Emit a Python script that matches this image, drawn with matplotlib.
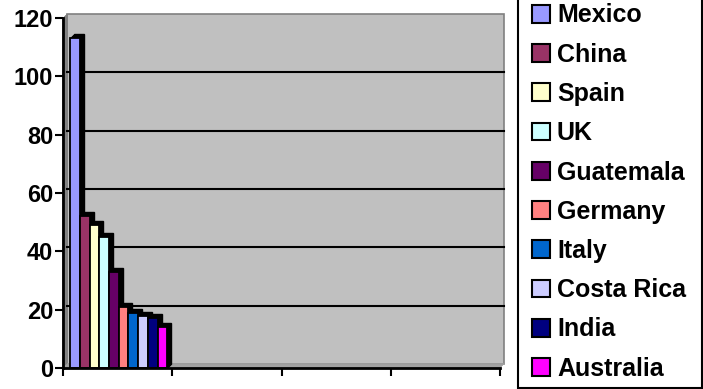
import matplotlib
matplotlib.use('Agg')
import matplotlib.pyplot as plt
from matplotlib.transforms import offset_copy
from matplotlib.patches import Rectangle

countries = ['Mexico', 'China', 'Spain', 'UK', 'Guatemala', 'Germany',
             'Italy', 'Costa Rica', 'India', 'Australia']
values = [113, 52, 49, 45, 33, 21, 19, 18, 17, 14]
colors = ['#9999FF', '#993366', '#FFFFCC', '#CCFFFF', '#660066', '#FF8080',
          '#0066CC', '#CCCCFF', '#000080', '#FF00FF']
n_categories = 4
yticks = [0, 20, 40, 60, 80, 100, 120]

plt.rcParams['font.family'] = ['Liberation Sans', 'DejaVu Sans']
plt.rcParams['font.weight'] = 'bold'

fig = plt.figure(figsize=(7.03, 3.89), dpi=100)
ax = fig.add_axes([63/703, 21/389, 437/703, 350/389])
ax.set_xlim(0, n_categories)
ax.set_ylim(0, yticks[-1])
ax.patch.set_visible(False)

D = 4
def off(k):
    return offset_copy(ax.transData, fig=fig, x=k, y=k, units='dots')

# back wall
ax.add_patch(Rectangle((0, 0), n_categories, yticks[-1], transform=off(D),
                       facecolor='#C0C0C0', edgecolor='#808080', lw=1.2,
                       zorder=0, clip_on=False))
# side wall and floor
for k in range(0, D + 1):
    ax.plot([0, 0], [0, yticks[-1]], transform=off(k), color='#808080', lw=1.2,
            zorder=0.5, clip_on=False, solid_capstyle='butt')
    ax.plot([0, n_categories], [0, 0], transform=off(k), color='#A0A0A0', lw=1.2,
            zorder=0.5, clip_on=False, solid_capstyle='butt')
# gridlines on back wall
for y in yticks[1:-1]:
    ax.plot([0, n_categories], [y, y], transform=off(D), color='black', lw=1.5,
            zorder=1, clip_on=False)

# bars
x0 = 0.065
w = 0.089
handles = []
for i, (v, c) in enumerate(zip(values, colors)):
    x = x0 + i * w
    for k in range(D, 0, -1):
        ax.add_patch(Rectangle((x, 0), w, v, transform=off(k), facecolor='black',
                               edgecolor='black', lw=1, zorder=3 + i * 0.01,
                               clip_on=False))
    p = Rectangle((x, 0), w, v, facecolor=c, edgecolor='black', lw=1.3,
                  zorder=3 + i * 0.01 + 0.005, clip_on=False)
    ax.add_patch(p)
    handles.append(Rectangle((0, 0), 1, 1, facecolor=c, edgecolor='black', lw=1.5))

for s in ['top', 'right']:
    ax.spines[s].set_visible(False)
for s in ['left', 'bottom']:
    ax.spines[s].set_linewidth(2)
    ax.spines[s].set_zorder(4)
ax.set_yticks(yticks)
ax.set_xticks(range(n_categories + 1))
ax.set_xticklabels([])
ax.tick_params(axis='both', direction='out', length=6, width=1.5, color='black')
ax.tick_params(axis='y', labelsize=17, pad=1)
for lab in ax.get_yticklabels():
    lab.set_fontweight('bold')

# legend border
fig.patches.append(Rectangle((518/703, 1/389), 184/703, 400/389,
                             transform=fig.transFigure, facecolor='white',
                             edgecolor='black', lw=1.5, zorder=0))
leg = fig.legend(handles, countries, loc='upper left',
                 bbox_to_anchor=(532/703, 385.5/389), bbox_transform=fig.transFigure,
                 fontsize=18, frameon=False,
                 handlelength=0.72, handleheight=0.72, handletextpad=0.28,
                 labelspacing=0.61, borderpad=0, borderaxespad=0)
for t in leg.get_texts():
    t.set_fontweight('bold')

fig.savefig('out.png', dpi=100)
